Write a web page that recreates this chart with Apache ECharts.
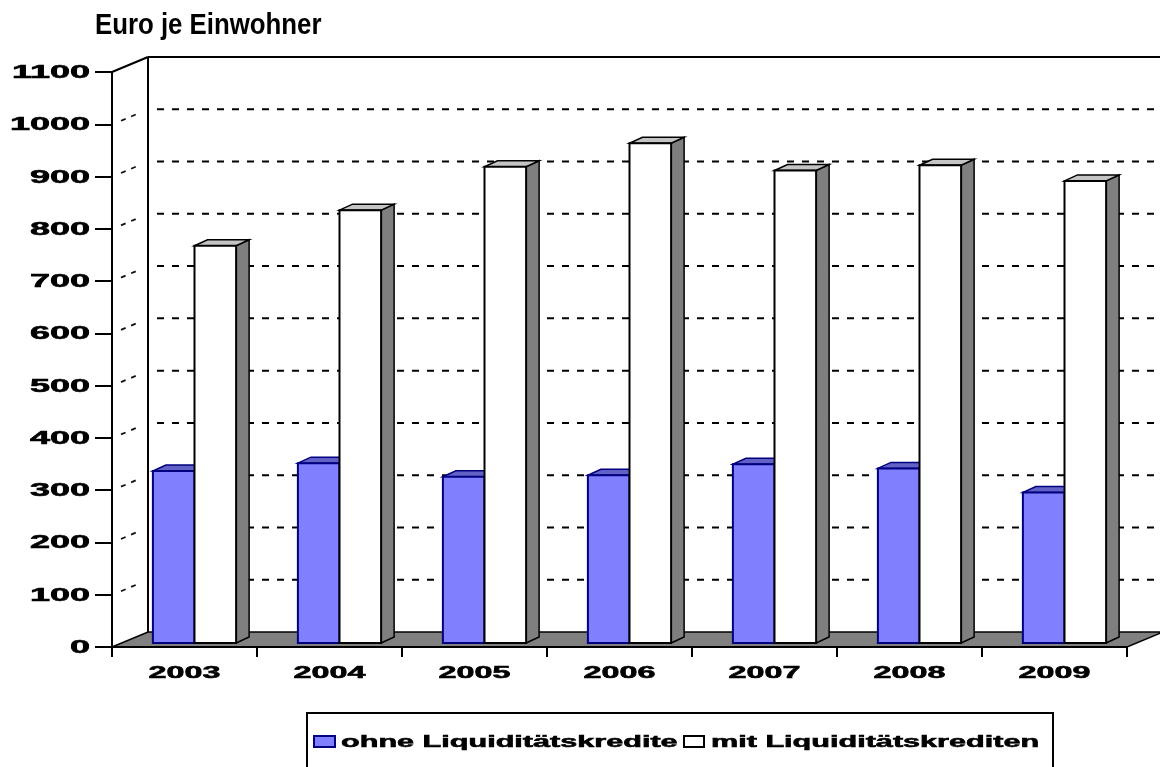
<!DOCTYPE html>
<html>
<head>
<meta charset="utf-8">
<script src="https://cdn.jsdelivr.net/npm/echarts@6/dist/echarts.min.js"></script>
<style>
  html, body { margin: 0; padding: 0; background: #ffffff; }
  #chart { width: 1160px; height: 767px; }
</style>
</head>
<body>
<div id="chart"></div>
<script>
// Kassenkredite je Einwohner, 2003-2009
const years = ['2003', '2004', '2005', '2006', '2007', '2008', '2009'];
const ohneLiquiditaetskredite = [329, 344, 318, 321, 342, 334, 288];
const mitLiquiditaetskrediten = [760, 828, 911, 956, 904, 914, 884];
const yTicks = [0, 100, 200, 300, 400, 500, 600, 700, 800, 900, 1000, 1100];
const seriesNames = ['ohne Liquiditätskredite', 'mit Liquiditätskrediten'];
const titleText = 'Euro je Einwohner';

// pseudo-3D geometry (pixels)
const WALL_DX = 36, WALL_DY = -15;        // depth of the side wall / floor
const BAR_SHIFT_X = 10, BAR_SHIFT_Y = -4; // bars stand slightly behind the front edge
const BAR_DX = 13, BAR_DY = -6;           // depth of each bar
const BAR_RATIO = 0.287;                  // bar width as share of a category band

const LABEL_FONT = {
  fontFamily: '"Liberation Sans", Arial, sans-serif', fontWeight: 'bold',
  fill: '#000', stroke: '#000', lineWidth: 0.6
};
const Y_MAX = yTicks[yTicks.length - 1];

const chart = echarts.init(document.getElementById('chart'), null, { renderer: 'canvas' });

// side wall, back wall edges and floor
function renderWalls(params, api) {
  const cs = params.coordSys;
  const x0 = cs.x, x1 = cs.x + cs.width;
  const yTop = api.coord([0, Y_MAX])[1];
  const yBot = api.coord([0, 0])[1];
  const line = { stroke: '#000', lineWidth: 2 };
  return {
    type: 'group',
    children: [
      { type: 'polygon', shape: { points: [[x0, yTop], [x0 + WALL_DX, yTop + WALL_DY], [x0 + WALL_DX, yBot + WALL_DY], [x0, yBot]] },
        style: { fill: '#ffffff' } },
      { type: 'polygon', shape: { points: [[x0, yBot], [x0 + WALL_DX, yBot + WALL_DY], [x1 + WALL_DX, yBot + WALL_DY], [x1, yBot]] },
        style: { fill: '#808080', stroke: '#000', lineWidth: 1.5 } },
      { type: 'line', shape: { x1: x0, y1: yTop, x2: x0 + WALL_DX, y2: yTop + WALL_DY }, style: line },
      { type: 'line', shape: { x1: x0 + WALL_DX, y1: yTop + WALL_DY, x2: x1 + WALL_DX, y2: yTop + WALL_DY }, style: line },
      { type: 'line', shape: { x1: x0 + WALL_DX, y1: yTop + WALL_DY, x2: x0 + WALL_DX, y2: yBot + WALL_DY }, style: line }
    ]
  };
}

// dashed gridlines on back wall and side wall
function renderGrid(params, api) {
  const v = api.value(1);
  if (v <= 0 || v >= Y_MAX) return null;
  const cs = params.coordSys;
  const x0 = cs.x, x1 = cs.x + cs.width;
  const y = api.coord([0, v])[1];
  return {
    type: 'group',
    children: [
      { type: 'line', shape: { x1: x0 + WALL_DX + 9, y1: y + WALL_DY, x2: x1 + WALL_DX, y2: y + WALL_DY },
        style: { stroke: '#000', lineWidth: 2, lineDash: [7, 8] } },
      { type: 'line', shape: { x1: x0 + 9, y1: y - 3.5, x2: x0 + WALL_DX - 7, y2: y + WALL_DY + 3 },
        style: { stroke: '#111', lineWidth: 1.8, lineDash: [5, 6] } }
    ]
  };
}

function makeBarRenderer(side, colors) {
  return function (params, api) {
    const idx = api.value(0);
    const val = api.value(1);
    const base = api.coord([idx, 0]);
    const top = api.coord([idx, val]);
    const bandW = api.size([1, 0])[0];
    const w = bandW * BAR_RATIO;
    const xL = side === 0 ? base[0] + BAR_SHIFT_X - w : base[0] + BAR_SHIFT_X;
    const yT = top[1] + BAR_SHIFT_Y;
    const yB = base[1] + BAR_SHIFT_Y;
    const xR = xL + w;
    return {
      type: 'group',
      children: [
        { type: 'polygon', shape: { points: [[xR, yT], [xR + BAR_DX, yT + BAR_DY], [xR + BAR_DX, yB + BAR_DY], [xR, yB]] },
          style: { fill: colors.side, stroke: colors.stroke, lineWidth: 1.5 } },
        { type: 'polygon', shape: { points: [[xL, yT], [xL + BAR_DX, yT + BAR_DY], [xR + BAR_DX, yT + BAR_DY], [xR, yT]] },
          style: { fill: colors.top, stroke: colors.stroke, lineWidth: 1.5 } },
        { type: 'rect', shape: { x: xL, y: yT, width: w, height: yB - yT },
          style: { fill: colors.front, stroke: colors.stroke, lineWidth: 2 } }
      ]
    };
  };
}

function renderYLabel(params, api) {
  const v = api.value(1);
  const y = api.coord([0, v])[1];
  return {
    type: 'text', x: params.coordSys.x - 22, y: y + 1, scaleX: 2.0,
    style: Object.assign({ text: String(v), align: 'right', verticalAlign: 'middle', fontSize: 18 }, LABEL_FONT)
  };
}

function renderXLabel(params, api) {
  const i = api.value(0);
  const p = api.coord([i, 0]);
  return {
    type: 'text', x: p[0], y: p[1] + 26, scaleX: 1.9,
    style: Object.assign({ text: years[i], align: 'center', verticalAlign: 'middle', fontSize: 17 }, LABEL_FONT)
  };
}

const blueColors = { front: '#8080ff', top: '#6262c6', side: '#4848a8', stroke: '#000080' };
const whiteColors = { front: '#ffffff', top: '#c4c4c4', side: '#7f7f7f', stroke: '#000000' };

// legend drawn as graphic so the text can use the wide lettering of the axes
const LEG_Y = 742, LEG_SCALE = 1.8;
const legendGraphic = {
  type: 'group',
  children: [
    { type: 'rect', shape: { x: 307, y: 713, width: 746, height: 90 }, style: { fill: '#fff', stroke: '#000', lineWidth: 2 } },
    { type: 'rect', shape: { x: 314, y: LEG_Y - 6, width: 21, height: 11 }, style: { fill: '#8080ff', stroke: '#000080', lineWidth: 2 } },
    { type: 'text', x: 341, y: LEG_Y, scaleX: LEG_SCALE,
      style: Object.assign({ text: seriesNames[0], verticalAlign: 'middle', fontSize: 17 }, LABEL_FONT) },
    { type: 'rect', shape: { x: 684, y: LEG_Y - 6, width: 20, height: 11 }, style: { fill: '#ffffff', stroke: '#000', lineWidth: 2 } },
    { type: 'text', x: 711, y: LEG_Y, scaleX: LEG_SCALE,
      style: Object.assign({ text: seriesNames[1], verticalAlign: 'middle', fontSize: 17 }, LABEL_FONT) }
  ]
};

// title in condensed bold lettering
const titleGraphic = {
  type: 'text', x: 95, y: 26, scaleX: 0.86,
  style: { text: titleText, verticalAlign: 'middle', fontFamily: '"Liberation Sans", Arial, sans-serif',
    fontWeight: 'bold', fontSize: 30, fill: '#000' }
};

const option = {
  animation: false,
  backgroundColor: '#ffffff',
  grid: { left: 112, top: 72, width: 1015, height: 575, containLabel: false },
  xAxis: {
    type: 'category', data: years, boundaryGap: true, z: 10,
    axisLine: { show: true, lineStyle: { color: '#000', width: 2 } },
    axisTick: { show: true, length: 10, interval: 0, lineStyle: { color: '#000', width: 2 } },
    axisLabel: { show: false },
    splitLine: { show: false }
  },
  yAxis: {
    type: 'value', min: 0, max: Y_MAX, interval: 100, z: 10,
    axisLine: { show: true, lineStyle: { color: '#000', width: 2 } },
    axisTick: { show: true, length: 17, lineStyle: { color: '#000', width: 2 } },
    axisLabel: { show: false },
    splitLine: { show: false }
  },
  graphic: [titleGraphic, legendGraphic],
  series: [
    { type: 'custom', name: 'walls', renderItem: renderWalls, data: [[0, 0]], encode: { x: 0, y: 1 }, z: 1, silent: true },
    { type: 'custom', name: 'grid', renderItem: renderGrid, data: yTicks.map(v => [0, v]), encode: { x: 0, y: 1 }, z: 1, silent: true },
    { type: 'custom', name: seriesNames[0], renderItem: makeBarRenderer(0, blueColors),
      data: ohneLiquiditaetskredite.map((v, i) => [i, v]), encode: { x: 0, y: 1 }, z: 3 },
    { type: 'custom', name: seriesNames[1], renderItem: makeBarRenderer(1, whiteColors),
      data: mitLiquiditaetskrediten.map((v, i) => [i, v]), encode: { x: 0, y: 1 }, z: 4 },
    { type: 'custom', name: 'yLabels', renderItem: renderYLabel, data: yTicks.map(v => [0, v]), encode: { x: 0, y: 1 }, z: 5, silent: true },
    { type: 'custom', name: 'xLabels', renderItem: renderXLabel, data: years.map((y, i) => [i, 0]), encode: { x: 0, y: 1 }, z: 5, silent: true }
  ]
};

chart.setOption(option);
</script>
</body>
</html>
